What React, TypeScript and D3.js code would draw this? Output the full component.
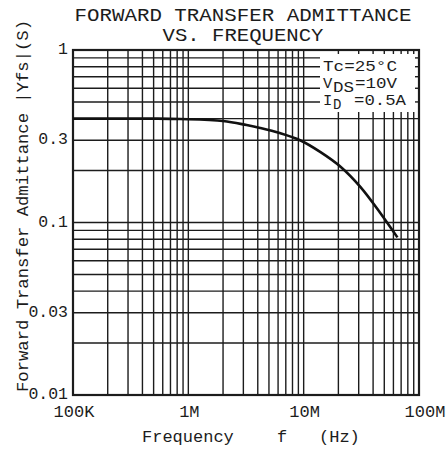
import React from "react";
import * as d3 from "d3";

// |Yfs| vs frequency curve (Hz, S)
const freqHz = [1e5, 5e5, 8.5e5, 2e6, 3.2e6, 4.2e6, 6.2e6, 9.3e6, 1.4e7, 2.1e7, 3.1e7, 4.6e7, 6.5e7];
const yfsS = [0.40, 0.40, 0.398, 0.388, 0.367, 0.353, 0.33, 0.30, 0.256, 0.21, 0.161, 0.114, 0.082];

const xTickValues = [1e5, 1e6, 1e7, 1e8];
const xTickLabels = ["100K", "1M", "10M", "100M"];
const yTickValues = [1, 0.3, 0.1, 0.03, 0.01];
const yTickLabels = ["1", "0.3", "0.1", "0.03", "0.01"];

const W = 448;
const H = 451;
const left = 73;
const right = 419;
const top = 50;
const bottom = 395;
const FONT = "'Liberation Mono', 'DejaVu Sans Mono', monospace";
const INK = "#1c1c1c";

export default function App() {
  const x = d3.scaleLog().domain([1e5, 1e8]).range([left, right]);
  const y = d3.scaleLog().domain([0.01, 1]).range([bottom, top]);

  const vGrid: number[] = [];
  for (const dec of [1e5, 1e6, 1e7]) for (let k = 1; k <= 9; k++) vGrid.push(dec * k);
  vGrid.push(1e8);
  const hGrid: number[] = [];
  for (const dec of [0.01, 0.1]) for (let k = 1; k <= 9; k++) hGrid.push(dec * k);
  hGrid.push(1);

  const line = d3
    .line<number>()
    .x((_, i) => x(freqHz[i]))
    .y((d) => y(d))
    .curve(d3.curveCatmullRom.alpha(0.5));

  // condition box area
  const boxX = 320;
  const boxBottom = 112;

  return (
    <div style={{ position: "absolute", left: 0, top: 0 }}>
      <svg width={W} height={H} style={{ display: "block", background: "#fff" }}>
        {/* title */}
        <text x={243} y={21} textAnchor="middle" fontFamily={FONT} fontSize={19}
          textLength={337} lengthAdjust="spacingAndGlyphs" fill={INK}>
          FORWARD TRANSFER ADMITTANCE
        </text>
        <text x={243} y={41} textAnchor="middle" fontFamily={FONT} fontSize={19}
          textLength={161} lengthAdjust="spacingAndGlyphs" fill={INK}>
          VS. FREQUENCY
        </text>

        {/* grid */}
        {vGrid.map((v, i) => (
          <line key={"v" + i} x1={x(v)} x2={x(v)} y1={top} y2={bottom} stroke={INK} strokeWidth={1.4} />
        ))}
        {hGrid.map((v, i) => (
          <line key={"h" + i} x1={left} x2={right} y1={y(v)} y2={y(v)} stroke={INK} strokeWidth={1.4} />
        ))}

        {/* condition box */}
        <rect x={boxX} y={top} width={right - boxX} height={boxBottom - top} fill="#fff" />
        {vGrid.filter((v) => x(v) > boxX).map((v, i) => (
          <line key={"tt" + i} x1={x(v)} x2={x(v)} y1={top} y2={top + 4} stroke={INK} strokeWidth={1.4} />
        ))}
        {hGrid.filter((v) => y(v) < boxBottom).map((v, i) => (
          <line key={"rt" + i} x1={right - 4} x2={right} y1={y(v)} y2={y(v)} stroke={INK} strokeWidth={1.4} />
        ))}
        <g fontFamily={FONT} fill={INK} fontSize={15.5}>
          <text x={323} y={71} textLength={74} lengthAdjust="spacingAndGlyphs">Tc=25°C</text>
          <text x={323} y={88}>V</text>
          <text x={333} y={92} fontSize={14} textLength={21} lengthAdjust="spacingAndGlyphs">DS</text>
          <text x={355} y={88} textLength={42} lengthAdjust="spacingAndGlyphs">=10V</text>
          <text x={323} y={105}>I</text>
          <text x={333} y={109} fontSize={14}>D</text>
          <text x={354} y={105} textLength={52} lengthAdjust="spacingAndGlyphs">=0.5A</text>
        </g>

        {/* frame */}
        <rect x={left} y={top} width={right - left} height={bottom - top} fill="none" stroke={INK} strokeWidth={2.2} />

        {/* curve */}
        <path d={line(yfsS) || ""} fill="none" stroke="#111" strokeWidth={2.6} />

        {/* y tick labels */}
        {yTickValues.map((v, i) => (
          <text key={"yl" + i} x={68} y={y(v) + 4} textAnchor="end" fontFamily={FONT} fontSize={16.5} fill={INK}>
            {yTickLabels[i]}
          </text>
        ))}
        {/* x tick labels */}
        {xTickValues.map((v, i) => (
          <text key={"xl" + i} x={i === 3 ? x(v) + 6 : x(v) + 1} y={417} textAnchor="middle"
            fontFamily={FONT} fontSize={17} fill={INK}>
            {xTickLabels[i]}
          </text>
        ))}

        {/* axis titles */}
        <text x={142} y={442} fontFamily={FONT} fontSize={17} fill={INK}>Frequency</text>
        <text x={277} y={442} fontFamily={FONT} fontSize={17} fill={INK}>f</text>
        <text x={319} y={442} fontFamily={FONT} fontSize={17} fill={INK}>(Hz)</text>
        <text transform="translate(28,392) rotate(-90)" fontFamily={FONT} fontSize={16.5}
          textLength={372} lengthAdjust="spacingAndGlyphs" fill={INK}>
          Forward Transfer Admittance |Yfs|(S)
        </text>
      </svg>
    </div>
  );
}
